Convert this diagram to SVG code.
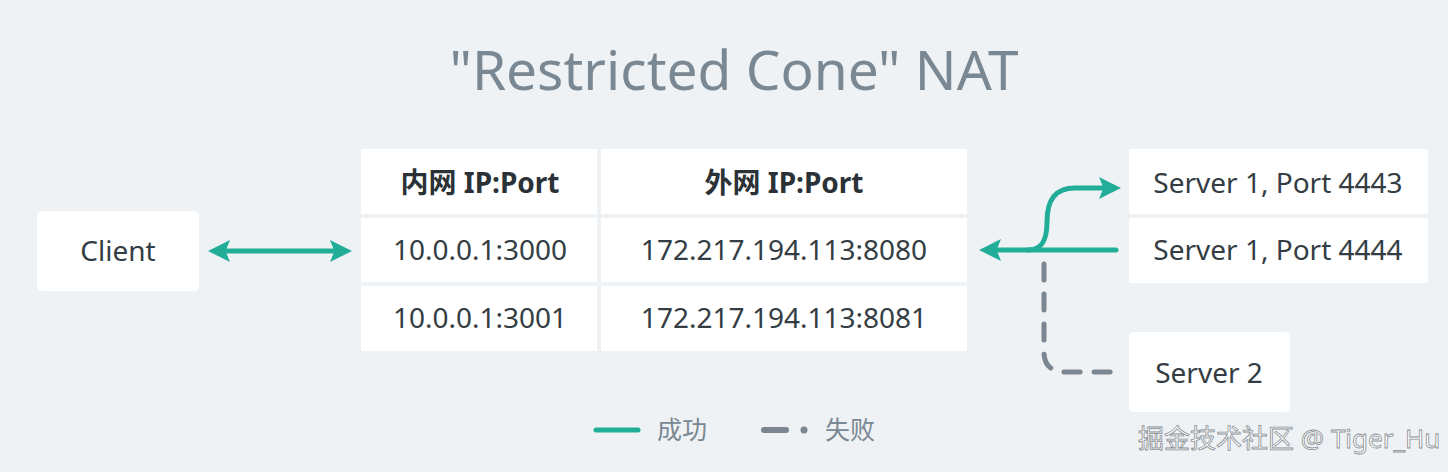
<svg xmlns="http://www.w3.org/2000/svg" width="1448" height="472" viewBox="0 0 1448 472">
<defs>
<style>
.bg{fill:#eef2f5}
.box{fill:#ffffff}
.cell{fill:#ffffff}
.t{font-family:"Noto Sans","Noto Sans CJK SC",sans-serif;fill:#343d43;text-anchor:middle}
.n{font-size:28px}
.h{font-size:28px;font-weight:bold;fill:#2b3237}
.ok{stroke:#22ad98;stroke-width:5;fill:none;stroke-linecap:round}
.fail{stroke:#7b8690;stroke-width:5;fill:none;stroke-linecap:round;stroke-dasharray:16 14}
</style>
<marker id="ah" viewBox="0 0 10 10" refX="5" refY="5" markerWidth="4.4" markerHeight="4.4" orient="auto-start-reverse" markerUnits="strokeWidth">
<path d="M0,0 L10,5 L0,10 L2,5 Z" fill="#22ad98"/>
</marker>
</defs>
<rect class="bg" x="0" y="0" width="1448" height="472"/>
<text x="734" y="90" class="t" style="font-size:55px;fill:#7a8893">"Restricted Cone" NAT</text>

<g id="client">
<rect class="box" x="37" y="211" width="162" height="80" rx="5"/>
<text x="118" y="261" class="t n">Client</text>
</g>

<g id="nat-table">
<rect class="cell" x="361" y="149" width="236" height="65"/>
<rect class="cell" x="601" y="149" width="366" height="65"/>
<rect class="cell" x="361" y="218" width="236" height="64"/>
<rect class="cell" x="601" y="218" width="366" height="64"/>
<rect class="cell" x="361" y="286" width="236" height="65"/>
<rect class="cell" x="601" y="286" width="366" height="65"/>
<text x="480" y="193" class="t h">内网 IP:Port</text>
<text x="784" y="193" class="t h">外网 IP:Port</text>
<text x="480" y="260" class="t n">10.0.0.1:3000</text>
<text x="784" y="260" class="t n">172.217.194.113:8080</text>
<text x="480" y="328" class="t n">10.0.0.1:3001</text>
<text x="784" y="328" class="t n">172.217.194.113:8081</text>
</g>

<g id="server1-4443">
<rect class="box" x="1129" y="149" width="299" height="65" rx="3"/>
<text x="1278" y="193" class="t n">Server 1, Port 4443</text>
</g>
<g id="server1-4444">
<rect class="box" x="1129" y="218" width="299" height="65" rx="3"/>
<text x="1278" y="260" class="t n">Server 1, Port 4444</text>
</g>
<g id="server2">
<rect class="box" x="1129" y="332" width="161" height="80" rx="5"/>
<text x="1209" y="383" class="t n">Server 2</text>
</g>

<g id="connectors">
<line class="ok" x1="219" y1="251" x2="341" y2="251" marker-start="url(#ah)" marker-end="url(#ah)"/>
<line class="ok" x1="1116" y1="250" x2="990" y2="250" marker-end="url(#ah)"/>
<path class="ok" d="M1028,250 C1042,250 1047,240 1047,222 C1047,200 1055,188 1075,188 L1110,188" marker-end="url(#ah)"/>
<path class="fail" d="M1044,264 L1044,352 C1044,366 1052,372 1066,372 L1116,372"/>
</g>

<g id="legend">
<line class="ok" x1="596" y1="430" x2="638" y2="430"/>
<text x="657" y="439" class="t" style="font-size:25px;fill:#7a8893;text-anchor:start">成功</text>
<line x1="764" y1="430" x2="786" y2="430" stroke="#7b8690" stroke-width="6" stroke-linecap="round"/>
<circle cx="804" cy="430" r="3.5" fill="#7b8690"/>
<text x="825" y="439" class="t" style="font-size:25px;fill:#7a8893;text-anchor:start">失败</text>
</g>

<text x="1138" y="448" style="font-family:'Noto Sans','Noto Sans CJK SC',sans-serif;font-size:26px;fill:#ffffff;stroke:#8a8f94;stroke-width:0.8">掘金技术社区 @ Tiger_Hu</text>
</svg>
